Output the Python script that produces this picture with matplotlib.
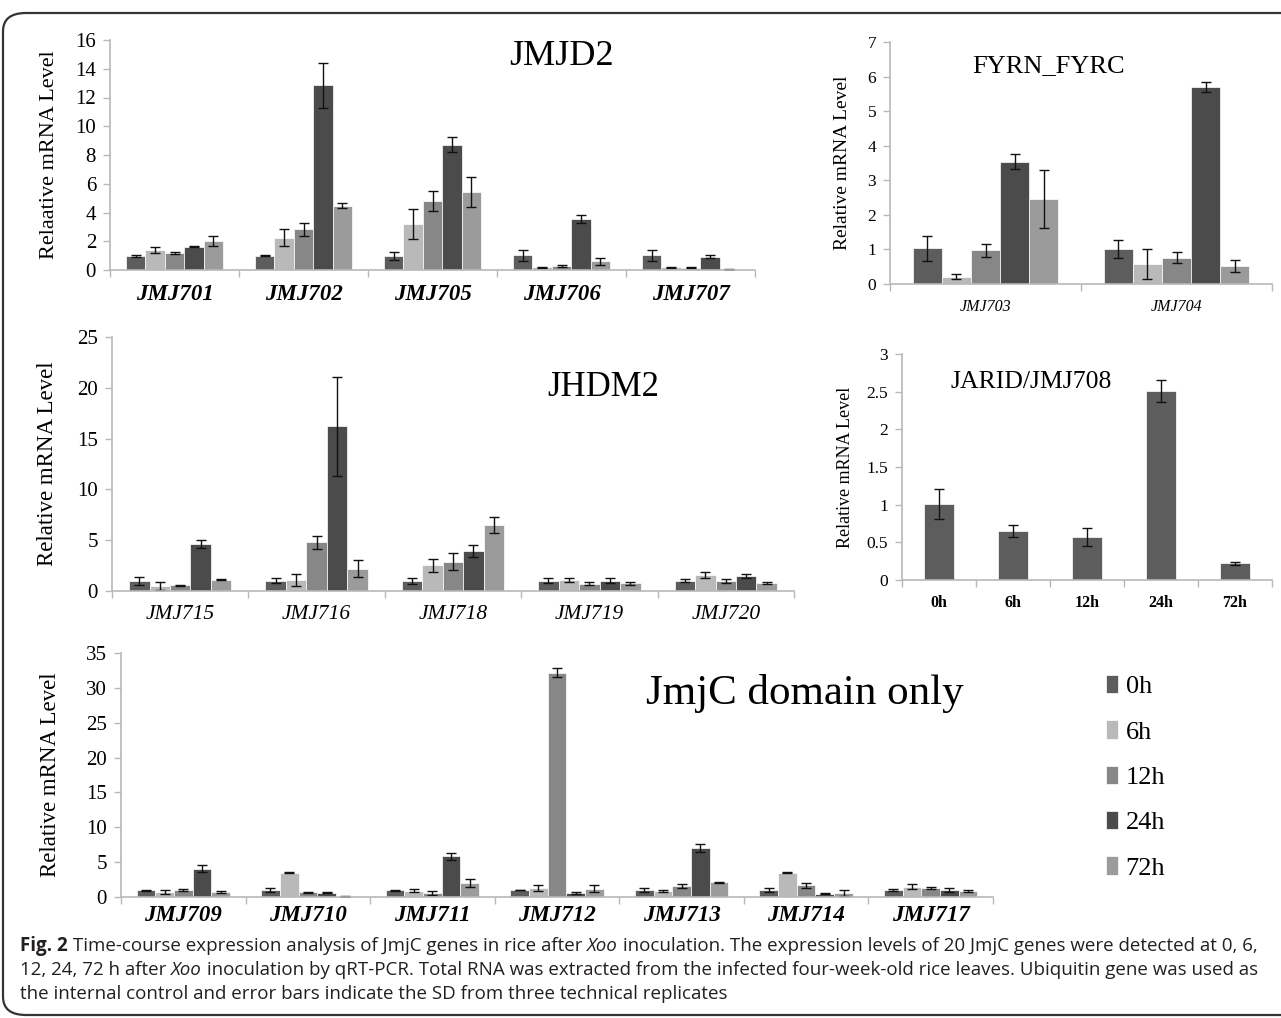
import matplotlib.pyplot as plt
import numpy as np
from matplotlib.patches import FancyBboxPatch

plt.rcParams["font.family"] = ["Liberation Serif", "DejaVu Serif"]

W, H = 1281, 1018
TIMES = ["0h", "6h", "12h", "24h", "72h"]
COLORS = ["#5d5d5d", "#b9b9b9", "#878787", "#4b4b4b", "#9b9b9b"]
AXIS_GRAY = "#b8b8b8"

# JMJD2 (rows = time points 0h, 6h, 12h, 24h, 72h)
jmjd2_genes = ["JMJ701", "JMJ702", "JMJ705", "JMJ706", "JMJ707"]
jmjd2_mean = [[0.98, 1.00, 0.97, 1.02, 1.02],
              [1.41, 2.26, 3.19, 0.20, 0.18],
              [1.18, 2.82, 4.78, 0.28, 0.17],
              [1.62, 12.84, 8.73, 3.53, 0.92],
              [2.05, 4.48, 5.43, 0.60, 0.05]]
jmjd2_sd = [[0.05, 0.05, 0.25, 0.38, 0.40],
            [0.22, 0.58, 1.02, 0.03, 0.03],
            [0.08, 0.42, 0.69, 0.10, 0.04],
            [0.05, 1.58, 0.49, 0.28, 0.10],
            [0.35, 0.20, 1.02, 0.22, 0.02]]

# FYRN_FYRC
fyrn_genes = ["JMJ703", "JMJ704"]
fyrn_mean = [[1.03, 1.00], [0.21, 0.57], [0.97, 0.76], [3.54, 5.70], [2.47, 0.51]]
fyrn_sd = [[0.36, 0.26], [0.07, 0.43], [0.18, 0.16], [0.21, 0.15], [0.84, 0.17]]

# JHDM2
jhdm2_genes = ["JMJ715", "JMJ716", "JMJ718", "JMJ719", "JMJ720"]
jhdm2_mean = [[1.02, 1.00, 1.00, 1.00, 1.00],
              [0.53, 1.08, 2.53, 1.10, 1.58],
              [0.55, 4.80, 2.89, 0.72, 1.00],
              [4.66, 16.20, 3.94, 1.00, 1.45],
              [1.10, 2.20, 6.50, 0.75, 0.78]]
jhdm2_sd = [[0.40, 0.25, 0.30, 0.25, 0.15],
            [0.40, 0.55, 0.66, 0.20, 0.30],
            [0.05, 0.62, 0.84, 0.15, 0.20],
            [0.38, 4.90, 0.57, 0.25, 0.20],
            [0.05, 0.85, 0.82, 0.12, 0.10]]

# JARID/JMJ708
jarid_mean = [1.01, 0.65, 0.57, 2.51, 0.22]
jarid_sd = [0.20, 0.08, 0.12, 0.15, 0.02]

# JmjC domain only
jmjc_genes = ["JMJ709", "JMJ710", "JMJ711", "JMJ712", "JMJ713", "JMJ714", "JMJ717"]
jmjc_mean = [[0.97, 0.97, 0.98, 1.00, 1.00, 1.00, 1.00],
             [0.70, 3.49, 0.90, 1.30, 0.85, 3.49, 1.50],
             [1.00, 0.65, 0.55, 32.20, 1.60, 1.70, 1.30],
             [4.02, 0.60, 5.83, 0.55, 7.03, 0.50, 1.00],
             [0.75, 0.12, 2.00, 1.20, 2.10, 0.55, 0.85]]
jmjc_sd = [[0.08, 0.30, 0.05, 0.05, 0.35, 0.30, 0.10],
           [0.25, 0.10, 0.20, 0.45, 0.10, 0.05, 0.35],
           [0.10, 0.05, 0.30, 0.65, 0.25, 0.35, 0.20],
           [0.50, 0.05, 0.50, 0.15, 0.60, 0.05, 0.35],
           [0.12, 0.05, 0.60, 0.50, 0.12, 0.45, 0.15]]


def px_axes(x0, y0, x1, y1):
    # pixel box (top-left origin) -> figure axes
    return fig.add_axes([x0 / W, 1 - y1 / H, (x1 - x0) / W, (y1 - y0) / H])


def style_axes(ax, n, ymax, ystep, ytick_size):
    ax.set_xlim(-0.5, n - 0.5)
    ax.set_ylim(0, ymax)
    yt = np.arange(0, ymax + 1e-9, ystep)
    ax.set_yticks(yt)
    ax.set_yticklabels([f"{v:g}" for v in yt], fontsize=ytick_size)
    ax.set_xticks(np.arange(-0.5, n), minor=True)
    ax.tick_params(axis="x", which="major", length=0)
    ax.tick_params(axis="x", which="minor", length=5, color=AXIS_GRAY, width=1)
    ax.tick_params(axis="y", length=5, color=AXIS_GRAY, width=1, pad=5)
    for s in ["top", "right"]:
        ax.spines[s].set_visible(False)
    for s in ["left", "bottom"]:
        ax.spines[s].set_color(AXIS_GRAY)
        ax.spines[s].set_linewidth(1.2)


def grouped(ax, genes, means, sds, width, cap):
    x = np.arange(len(genes))
    for i in range(len(TIMES)):
        ax.bar(x + (i - 2) * width, means[i], width, color=COLORS[i],
               edgecolor="white", linewidth=0.5, yerr=sds[i], capsize=cap,
               error_kw=dict(elinewidth=1, capthick=1, ecolor="#111111"),
               label=TIMES[i], zorder=2)
    ax.set_xticks(x)


fig = plt.figure(figsize=(W / 100, H / 100), dpi=100)

# outer frame, rounded on the left, running off the right edge
frame = FancyBboxPatch((3 / W, 1 - 1015 / H), 1.2, (1015 - 13) / H,
                       boxstyle="round,pad=0,rounding_size=0.018",
                       transform=fig.transFigure, fill=False,
                       edgecolor="#333333", linewidth=1.6, clip_on=True)
fig.patches.append(frame)

# JMJD2
ax1 = px_axes(110, 40, 755, 270)
grouped(ax1, jmjd2_genes, jmjd2_mean, jmjd2_sd, 0.15, 3.5)
style_axes(ax1, 5, 16, 2, 15)
ax1.set_xticklabels(jmjd2_genes, style="italic", fontweight="bold", fontsize=16.5)
ax1.tick_params(axis="x", pad=10)
ax1.set_ylabel("Relaative mRNA Level", fontsize=16, labelpad=12)
ax1.text(0.70, 0.93, "JMJD2", transform=ax1.transAxes, fontsize=26,
         ha="center", va="center")

# FYRN_FYRC
ax2 = px_axes(890, 42, 1272, 284)
grouped(ax2, fyrn_genes, fyrn_mean, fyrn_sd, 0.152, 3.5)
style_axes(ax2, 2, 7, 1, 12.5)
ax2.set_xticklabels(fyrn_genes, style="italic", fontsize=11.5)
ax2.tick_params(axis="x", pad=11)
ax2.set_ylabel("Relative mRNA Level", fontsize=14, labelpad=12)
ax2.text(0.415, 0.9, "FYRN_FYRC", transform=ax2.transAxes, fontsize=19,
         ha="center", va="center")

# JHDM2
ax3 = px_axes(112, 337, 794, 591)
grouped(ax3, jhdm2_genes, jhdm2_mean, jhdm2_sd, 0.15, 3.5)
style_axes(ax3, 5, 25, 5, 15)
ax3.set_xticklabels(jhdm2_genes, style="italic", fontsize=15.5)
ax3.tick_params(axis="x", pad=10)
ax3.set_ylabel("Relative mRNA Level", fontsize=16.5, labelpad=14)
ax3.text(0.72, 0.8, "JHDM2", transform=ax3.transAxes, fontsize=25,
         ha="center", va="center")

# JARID/JMJ708
ax4 = px_axes(902, 354, 1272, 580)
x4 = np.arange(len(TIMES))
ax4.bar(x4, jarid_mean, 0.4, color=COLORS[0], edgecolor="white",
        linewidth=0.5, yerr=jarid_sd, capsize=3.5,
        error_kw=dict(elinewidth=1, capthick=1, ecolor="#111111"), zorder=2)
style_axes(ax4, 5, 3, 0.5, 12.5)
ax4.set_xticks(x4)
ax4.set_xticklabels(TIMES, fontweight="bold", fontsize=11.5)
ax4.tick_params(axis="x", pad=11)
ax4.set_ylabel("Relative mRNA Level", fontsize=13, labelpad=9)
ax4.text(0.35, 0.875, "JARID/JMJ708", transform=ax4.transAxes, fontsize=18.5,
         ha="center", va="center")

# JmjC domain only
ax5 = px_axes(121, 653, 993, 897)
grouped(ax5, jmjc_genes, jmjc_mean, jmjc_sd, 0.15, 3.5)
style_axes(ax5, 7, 35, 5, 15)
ax5.set_xticklabels(jmjc_genes, style="italic", fontweight="bold", fontsize=16.5)
ax5.tick_params(axis="x", pad=6)
ax5.set_ylabel("Relative mRNA Level", fontsize=16.5, labelpad=18)
ax5.text(0.784, 0.835, "JmjC domain only", transform=ax5.transAxes, fontsize=31,
         ha="center", va="center")

handles, labels = ax5.get_legend_handles_labels()
leg = fig.legend([h.patches[0] for h in handles], labels,
                 loc="upper left", bbox_to_anchor=(1082 / W, 1 - 651 / H),
                 frameon=False, fontsize=19, handlelength=0.45, handleheight=0.7,
                 handletextpad=0.3, labelspacing=0.83)

# caption with mixed styles
renderer = fig.canvas.get_renderer()
cap_font = ["Open Sans", "DejaVu Sans"]
cap_size = 13.5
caption = [
    [("Fig. 2", "normal", "bold"),
     (" Time-course expression analysis of JmjC genes in rice after ", "normal", "normal"),
     ("Xoo", "italic", "normal"),
     (" inoculation. The expression levels of 20 JmjC genes were detected at 0, 6,", "normal", "normal")],
    [("12, 24, 72 h after ", "normal", "normal"),
     ("Xoo", "italic", "normal"),
     (" inoculation by qRT-PCR. Total RNA was extracted from the infected four-week-old rice leaves. Ubiquitin gene was used as", "normal", "normal")],
    [("the internal control and error bars indicate the SD from three technical replicates", "normal", "normal")],
]
baselines = [951, 975, 999]
for parts, yb in zip(caption, baselines):
    xp = 20
    for txt, st, wt in parts:
        t = fig.text(xp / W, 1 - yb / H, txt, family=cap_font, fontsize=cap_size,
                     style=st, fontweight=wt, color="#231f20", va="baseline", ha="left")
        xp += t.get_window_extent(renderer).width

fig.savefig("out.png", dpi=100)
